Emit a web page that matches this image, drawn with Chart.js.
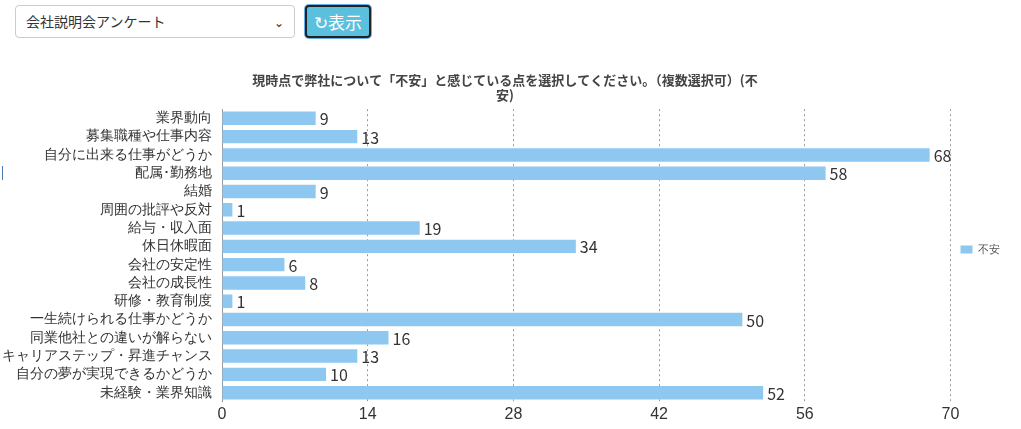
<!DOCTYPE html>
<html><head><meta charset="utf-8">
<script src="https://cdn.jsdelivr.net/npm/chart.js@4.4.0/dist/chart.umd.min.js"></script>
<style>
body{margin:0;font-family:"Noto Sans CJK JP","Noto Sans",sans-serif;background:#fff;}
#sel{position:absolute;left:15px;top:5px;width:280px;height:33px;border:1px solid #ccc;border-radius:4px;font-size:14px;color:#333;padding-left:10px;box-sizing:border-box;line-height:31px;}
#sel span{position:absolute;right:10px;top:0;font-size:12px;}
#btn{position:absolute;left:305px;top:5px;width:66px;height:33px;background:#5bc0de;border:2px solid #222;border-radius:4px;box-sizing:border-box;color:#fff;font-size:17px;line-height:29px;text-align:center;box-shadow:0 0 0 1px #66afe9;}
#mark{position:absolute;left:2px;top:166px;width:1px;height:14px;background:#4a7ab5;}
#wrap{position:absolute;left:0;top:72px;width:1010px;height:355px;}
</style></head><body>
<div id="sel">会社説明会アンケート<span>&#8964;</span></div>
<div id="btn">&#x21bb;表示</div>
<div id="mark"></div>
<div id="wrap"><canvas id="c"></canvas></div>
<script>
const categories=["業界動向","募集職種や仕事内容","自分に出来る仕事がどうか","配属･勤務地","結婚","周囲の批評や反対","給与・収入面","休日休暇面","会社の安定性","会社の成長性","研修・教育制度","一生続けられる仕事かどうか","同業他社との違いが解らない","キャリアステップ・昇進チャンス","自分の夢が実現できるかどうか","未経験・業界知識"];
const values=[9,13,68,58,9,1,19,34,6,8,1,50,16,13,10,52];
const seriesName="不安";
const titleLines=["現時点で弊社について「不安」と感じている点を選択してください。（複数選択可）(不","安)"];
const labelPlugin={id:'lbl',afterDatasetsDraw(ch){const ctx=ch.ctx;const m=ch.getDatasetMeta(0);ctx.save();ctx.font='16px "Noto Sans CJK JP",sans-serif';ctx.fillStyle='#333';ctx.textBaseline='middle';m.data.forEach((b,i)=>{ctx.fillText(values[i],b.x+4,b.y+1);});ctx.restore();}};
new Chart(document.getElementById('c'),{type:'bar',data:{labels:categories,datasets:[{label:seriesName,data:values,backgroundColor:'#8ec8f0',barPercentage:0.8,categoryPercentage:0.92}]},
options:{indexAxis:'y',responsive:true,maintainAspectRatio:false,animation:false,
layout:{padding:{left:0,right:0,bottom:0}},
plugins:{title:{display:true,text:titleLines,color:'#444',font:{size:13,weight:'bold',family:'"Noto Sans CJK JP"'},padding:{top:0,bottom:6},lineHeight:1.2},
legend:{position:'right',labels:{boxWidth:12,boxHeight:8,color:'#555',font:{size:11}}},tooltip:{enabled:false}},
scales:{x:{min:0,max:70,ticks:{stepSize:14,color:'#333',font:{size:16}},grid:{color:'#999',drawTicks:false},border:{dash:[2,3],display:false}},
y:{grid:{display:false},ticks:{color:'#333',font:{size:14},autoSkip:false,padding:2},border:{color:'#999'}}}},plugins:[labelPlugin]});
</script></body></html>
